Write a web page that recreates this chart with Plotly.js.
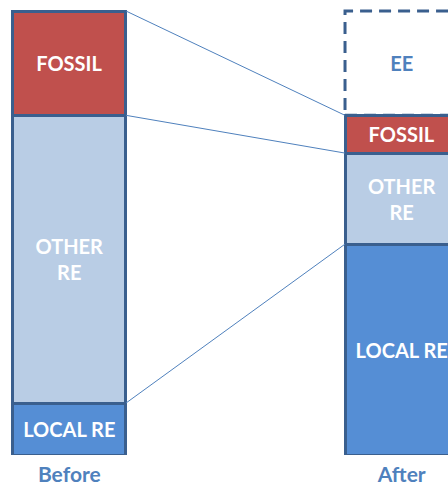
<!DOCTYPE html>
<html>
<head>
<meta charset="utf-8">
<script src="https://cdn.plot.ly/plotly-3.0.1.min.js"></script>
<style>html,body{margin:0;padding:0;background:#fff;}#chart{width:448px;height:486px;}</style>
</head>
<body>
<div id="chart"></div>
<script>
// Data (share of total, %)
const categories = ['Before', 'After'];
const localRE = [11.7, 47.5];
const otherRE = [64.8, 20.5];
const fossil = [23.5, 8.5];
const ee = [0, 23.5];
const segLabels = {local: 'LOCAL RE', other: 'OTHER<br>RE', fossil: 'FOSSIL', ee: 'EE'};

const xPos = [0, 1];
const barW = 0.341;
const outline = '#3A5F8E';
const font = 'Lato, "Open Sans", sans-serif';

function seg(name, vals, color, label, txtColor, lineW) {
  return {
    type: 'bar', name: name, x: xPos, y: vals, width: barW,
    marker: {color: color, line: {color: outline, width: lineW}},
    text: vals.map(v => v > 0 ? label : ''),
    textposition: 'inside', insidetextanchor: 'middle', constraintext: 'none',
    textfont: {family: font, size: 20, color: txtColor, weight: 'bold'},
    hoverinfo: 'skip', showlegend: false
  };
}

// cumulative boundaries
const cumLocal = localRE.slice();
const cumOther = localRE.map((v, i) => v + otherRE[i]);
const cumFossil = cumOther.map((v, i) => v + fossil[i]);
const cumEE = cumFossil.map((v, i) => v + ee[i]);

const xl = xPos[0] + barW / 2, xr = xPos[1] - barW / 2;
const connX = [], connY = [];
[cumLocal, cumOther, cumFossil].forEach(c => {
  connX.push(xl, xr, null);
  connY.push(c[0], c[1], null);
});

const traces = [
  {type: 'scatter', mode: 'lines', x: connX, y: connY,
   line: {color: '#4F81BD', width: 1}, hoverinfo: 'skip', showlegend: false},
  seg('LOCAL RE', localRE, '#558ED5', segLabels.local, '#ffffff', 3),
  seg('OTHER RE', otherRE, '#B9CDE5', segLabels.other, '#ffffff', 3),
  seg('FOSSIL', fossil, '#C0504D', segLabels.fossil, '#ffffff', 3),
  seg('EE', ee, 'rgba(0,0,0,0)', segLabels.ee, '#4F81BD', 0)
];

const shapes = [{
  type: 'rect', xref: 'x', yref: 'y',
  x0: xPos[1] - barW / 2, x1: xPos[1] + barW / 2,
  y0: cumFossil[1], y1: cumEE[1],
  line: {color: outline, width: 3, dash: '12px,7px'},
  fillcolor: 'rgba(0,0,0,0)'
}];

const layout = {
  width: 448, height: 486,
  margin: {l: 0, r: 0, t: 5, b: 31},
  paper_bgcolor: '#ffffff', plot_bgcolor: '#ffffff',
  barmode: 'stack', showlegend: false,
  xaxis: {
    range: [-0.2085, 1.1393], tickvals: xPos, ticktext: categories,
    showgrid: false, zeroline: false, showline: false, ticks: '',
    ticklabelstandoff: 5,
    tickfont: {family: font, size: 21, color: '#4F81BD', weight: 'bold'},
    fixedrange: true
  },
  yaxis: {
    range: [0, 101.351], visible: false, showgrid: false, zeroline: false, fixedrange: true
  },
  shapes: shapes
};

Plotly.newPlot('chart', traces, layout, {displayModeBar: false, staticPlot: true});
</script>
</body>
</html>
